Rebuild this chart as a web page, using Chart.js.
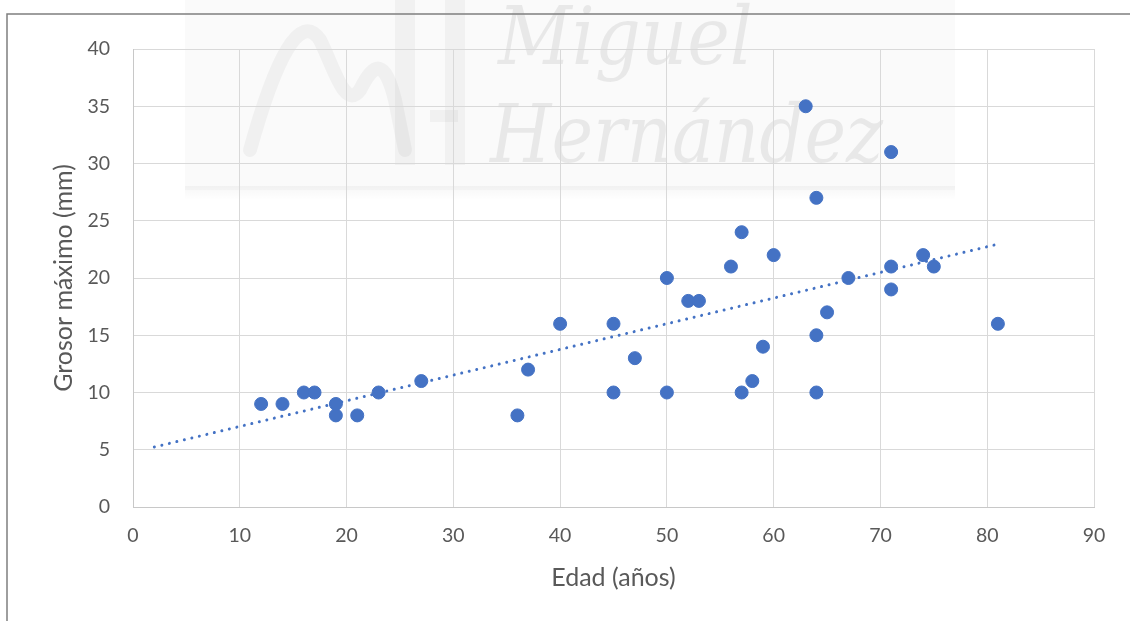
<!DOCTYPE html>
<html lang="es">
<head>
<meta charset="utf-8">
<title>Grosor máximo según edad</title>
<script src="https://cdn.jsdelivr.net/npm/chart.js@4.4.1/dist/chart.umd.min.js"></script>
<style>
  html, body { margin: 0; padding: 0; background: #ffffff; }
  #wrap { position: relative; width: 1131px; height: 621px; }
</style>
</head>
<body>
<div id="wrap"><canvas id="chart"></canvas></div>
<script>
// Edad (años) y grosor máximo (mm) de cada caso
const edad   = [12, 14, 16, 17, 19, 19, 21, 23, 27, 36, 37, 40, 45, 45, 47, 50, 50, 52, 53,
                56, 57, 57, 58, 59, 60, 63, 64, 64, 64, 65, 67, 71, 71, 71, 74, 75, 81];
const grosor = [ 9,  9, 10, 10,  8,  9,  8, 10, 11,  8, 12, 16, 16, 10, 13, 20, 10, 18, 18,
                21, 24, 10, 11, 14, 22, 35, 27, 15, 10, 17, 20, 31, 21, 19, 22, 21, 16];

// Ejes
const xTicks = [0, 10, 20, 30, 40, 50, 60, 70, 80, 90];
const yTicks = [0, 5, 10, 15, 20, 25, 30, 35, 40];

// Línea de tendencia lineal (mínimos cuadrados), extendida hacia atrás 10 años
const trendDesde = 2;

function tendencia(xs, ys, x0, x1) {
  const n = xs.length;
  const mx = xs.reduce((a, b) => a + b, 0) / n;
  const my = ys.reduce((a, b) => a + b, 0) / n;
  let sxy = 0, sxx = 0;
  for (let i = 0; i < n; i++) {
    sxy += (xs[i] - mx) * (ys[i] - my);
    sxx += (xs[i] - mx) * (xs[i] - mx);
  }
  const b = sxy / sxx;
  const a = my - b * mx;
  return [{ x: x0, y: a + b * x0 }, { x: x1, y: a + b * x1 }];
}

const puntos = edad.map((x, i) => ({ x, y: grosor[i] }));
const lineaTendencia = tendencia(edad, grosor, trendDesde, Math.max(...edad));

const AZUL = '#4472C4';
const TEXTO = '#595959';
const REJILLA = '#D9D9D9';
const FUENTE = 'Lato, "Open Sans", "Liberation Sans", sans-serif';

// Fondo: marca de agua y marco del gráfico
const fondo = {
  id: 'fondo',
  beforeDraw(chart) {
    const ctx = chart.ctx;
    ctx.save();
    ctx.fillStyle = '#ffffff';
    ctx.fillRect(0, 0, chart.width, chart.height);

    // marca de agua tenue
    ctx.fillStyle = 'rgba(0,0,0,0.018)';
    ctx.fillRect(185, 0, 770, 190);
    const g = ctx.createLinearGradient(0, 186, 0, 200);
    g.addColorStop(0, 'rgba(0,0,0,0.035)');
    g.addColorStop(1, 'rgba(0,0,0,0)');
    ctx.fillStyle = g;
    ctx.fillRect(185, 186, 770, 14);

    ctx.strokeStyle = 'rgba(0,0,0,0.04)';
    ctx.lineWidth = 14;
    ctx.lineCap = 'round';
    ctx.beginPath();
    ctx.moveTo(250, 150);
    ctx.bezierCurveTo(275, 60, 300, 10, 320, 40);
    ctx.bezierCurveTo(335, 70, 345, 110, 360, 90);
    ctx.bezierCurveTo(375, 60, 385, 60, 395, 100);
    ctx.lineTo(405, 150);
    ctx.stroke();
    ctx.fillStyle = 'rgba(0,0,0,0.035)';
    ctx.fillRect(395, 0, 20, 165);
    ctx.fillRect(445, 0, 20, 165);
    ctx.fillRect(430, 110, 28, 12);

    ctx.fillStyle = 'rgba(0,0,0,0.07)';
    ctx.textBaseline = 'alphabetic';
    ctx.textAlign = 'left';
    ctx.font = 'italic 80px "DejaVu Serif", "Liberation Serif", serif';
    ctx.save();
    ctx.translate(498, 64);
    ctx.scale(0.9, 1);
    ctx.fillText('Miguel', 0, 0);
    ctx.restore();
    ctx.save();
    ctx.translate(490, 162);
    ctx.scale(0.88, 1);
    ctx.fillText('Hernández', 0, 0);
    ctx.restore();

    // marco
    ctx.strokeStyle = '#7F7F7F';
    ctx.lineWidth = 1.5;
    ctx.lineCap = 'butt';
    ctx.beginPath();
    ctx.moveTo(7, chart.height);
    ctx.lineTo(7, 14);
    ctx.lineTo(1130, 14);
    ctx.stroke();
    ctx.restore();
  }
};

new Chart(document.getElementById('chart'), {
  type: 'scatter',
  data: {
    datasets: [
      {
        label: 'Grosor máximo',
        data: puntos,
        backgroundColor: AZUL,
        borderColor: AZUL,
        borderWidth: 1,
        pointRadius: 6.5,
        pointHoverRadius: 6.5,
        order: 1
      },
      {
        label: 'Lineal (Grosor máximo)',
        type: 'line',
        data: lineaTendencia,
        borderColor: AZUL,
        borderWidth: 3,
        borderDash: [0.01, 7.7],
        borderCapStyle: 'round',
        pointRadius: 0,
        fill: false,
        tension: 0,
        order: 2
      }
    ]
  },
  options: {
    responsive: true,
    maintainAspectRatio: false,
    devicePixelRatio: 1,
    animation: false,
    events: [],
    layout: { padding: { left: 0, top: 49, right: 37, bottom: 0 } },
    plugins: {
      legend: { display: false },
      tooltip: { enabled: false }
    },
    scales: {
      x: {
        type: 'linear',
        min: xTicks[0],
        max: xTicks[xTicks.length - 1],
        afterBuildTicks(scale) { scale.ticks = xTicks.map(v => ({ value: v })); },
        afterFit(scale) { scale.height = 114; },
        grid: { color: REJILLA, lineWidth: 1, drawTicks: false },
        border: { color: '#C8C8C8', width: 1 },
        ticks: { color: TEXTO, font: { family: FUENTE, size: 19.5 }, padding: 17 },
        title: {
          display: true,
          text: 'Edad (años)',
          color: TEXTO,
          font: { family: FUENTE, size: 25 },
          padding: { top: 0, bottom: 28 }
        }
      },
      y: {
        type: 'linear',
        min: yTicks[0],
        max: yTicks[yTicks.length - 1],
        afterBuildTicks(scale) { scale.ticks = yTicks.map(v => ({ value: v })); },
        afterFit(scale) { scale.width = 133; },
        grid: { color: REJILLA, lineWidth: 1, drawTicks: false },
        border: { color: '#C8C8C8', width: 1 },
        ticks: { color: TEXTO, font: { family: FUENTE, size: 19.5 }, padding: 23 },
        title: {
          display: true,
          text: 'Grosor máximo (mm)',
          color: TEXTO,
          font: { family: FUENTE, size: 25 },
          padding: { top: 49, bottom: 0 }
        }
      }
    }
  },
  plugins: [fondo]
});
</script>
</body>
</html>
